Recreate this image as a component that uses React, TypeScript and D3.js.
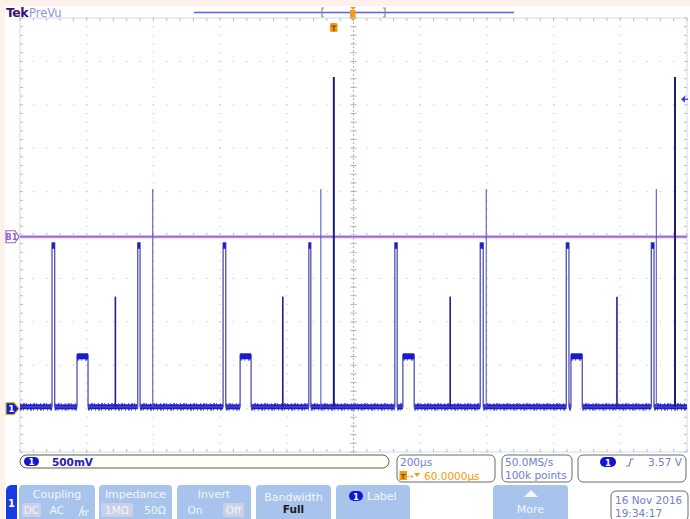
import React from "react";
import * as d3 from "d3";

// ---- data (time in µs relative to screen centre, volts) ----
const timeDomain = [-1000, 1000];
const voltDomain = [-0.5, 4.5];
const baselineLevel = 0.02;
const pulseStarts = [-904, -647, -391, -134, 124, 380, 638, 893];
const pulseEnds = [-896, -640, -383, -128, 131, 389, 646, 901];
const pulseLevel = 1.91;
const midStarts = [-829, -340, 148, 652];
const midEnds = [-796, -307, 182, 686];
const midLevel = 0.62;
const spikeTimes = [-714, -212, 290, 790];
const spikeLevel = 1.29;
const faintSpikeTimes = [-602, -98, 398, 908];
const faintSpikeLevel = 2.53;
const tallSpikeTimes = [-59, 964];
const tallSpikeLevel = 3.82;
const busThreshold = 1.98;
const triggerLevel = 3.57;

const gridTimes = [-800, -600, -400, -200, 200, 400, 600, 800];
const gridVolts = [0, 0.5, 1, 1.5, 2.5, 3, 3.5, 4];

const W = 690, H = 519;
const PL = 20, PR = 687, PT = 18, PB = 452;
const FONT = "'DejaVu Sans', sans-serif";

export default function App() {
  const x = d3.scaleLinear().domain(timeDomain).range([PL, PR]);
  const y = d3.scaleLinear().domain(voltDomain).range([PB, PT]);

  type Ev = { s: number; e: number; v: number; kind: string };
  const evs: Ev[] = [];
  pulseStarts.forEach((s, i) => evs.push({ s, e: pulseEnds[i], v: pulseLevel, kind: "pulse" }));
  midStarts.forEach((s, i) => evs.push({ s, e: midEnds[i], v: midLevel, kind: "mid" }));
  evs.sort((a, b) => a.s - b.s);

  const pts: [number, number][] = [[timeDomain[0], baselineLevel]];
  evs.forEach((ev) => {
    pts.push([ev.s, baselineLevel], [ev.s, ev.v], [ev.e, ev.v], [ev.e, baselineLevel]);
  });
  pts.push([timeDomain[1], baselineLevel]);
  const line = d3.line<[number, number]>().x((d) => x(d[0])).y((d) => y(d[1]));

  const segs: [number, number][] = [];
  let cur = timeDomain[0];
  evs.forEach((ev) => {
    segs.push([cur, ev.s]);
    cur = ev.e;
  });
  segs.push([cur, timeDomain[1]]);

  const minorT = d3.range(timeDomain[0], timeDomain[1] + 1, 40);
  const minorV = d3.range(voltDomain[0], voltDomain[1] + 0.001, 0.1);

  const dots: JSX.Element[] = [];
  gridTimes.forEach((t, i) =>
    minorV.forEach((v, j) =>
      dots.push(<rect key={`vd${i}-${j}`} x={x(t) - 0.5} y={y(v) - 0.5} width={1.1} height={1.1} fill="#bcbcbc" />)
    )
  );
  gridVolts.forEach((v, i) =>
    minorT.forEach((t, j) =>
      dots.push(<rect key={`hd${i}-${j}`} x={x(t) - 0.5} y={y(v) - 0.5} width={1.1} height={1.1} fill="#bcbcbc" />)
    )
  );

  const btnFill = "#a9c4ec";
  const txtLight = "#f2f6ff";
  const readoutBlue = "#6f80cc";

  const button = (bx: number, bw: number, key: string, children: React.ReactNode) => (
    <g key={key}>
      <path d={`M${bx},519 V${489} Q${bx},485 ${bx + 4},485 H${bx + bw - 4} Q${bx + bw},485 ${bx + bw},489 V519 Z`} fill={btnFill} />
      {children}
    </g>
  );

  const by = y(baselineLevel);

  return (
    <div style={{ position: "absolute", left: 0, top: 0, width: W, height: H }}>
      <svg width={W} height={H} style={{ display: "block", fontFamily: FONT }}>
        <rect width={W} height={H} fill="#ffffff" />
        <rect width={W} height={6} fill="#fdf1ec" />
        <rect width={5} height={H} fill="#fdf1ec" />

        {/* title */}
        <text x={6} y={17} fontSize={12.5} fontWeight="bold" fill="#3b0f72" fontFamily={FONT} letterSpacing={-0.5}>Tek</text>
        <text x={29} y={17} fontSize={11.5} fill="#8898d8" fontFamily={FONT}>PreVu</text>

        {/* record view */}
        <line x1={194} x2={514} y1={12.5} y2={12.5} stroke="#5d5df2" strokeWidth={1.5} />
        <path d="M324,8 H322 V17 H324" fill="none" stroke="#8a8a8a" strokeWidth={1.2} />
        <path d="M383,8 H385 V17 H383" fill="none" stroke="#8a8a8a" strokeWidth={1.2} />
        <path d="M350,7 L356,7 L353,10 Z" fill="#f49a10" />
        <rect x={350} y={10} width={5.5} height={7} fill="#f49a10" />
        <path d="M349,17 L357,17 L353,21 Z" fill="#f49a10" />
        <rect x={330} y={23} width={7.5} height={9} rx={1.5} fill="#f49a10" />
        <text x={333.8} y={30.5} fontSize={7.5} fontWeight="bold" textAnchor="middle" fill="#8a4a00" fontFamily={FONT}>T</text>

        {/* graticule */}
        <rect x={PL} y={PT} width={PR - PL} height={PB - PT} fill="none" stroke="#cfdcec" strokeWidth={1} />
        {dots}
        <line x1={x(0)} x2={x(0)} y1={PT} y2={PB} stroke="#b8b0a0" strokeWidth={1} strokeDasharray="2 2" />
        {minorV.map((v, i) => (
          <line key={`ct${i}`} x1={x(0) - 3} x2={x(0) + 3} y1={y(v)} y2={y(v)} stroke="#b8b0a0" strokeWidth={1} />
        ))}
        {minorT.map((t, i) => (
          <g key={`ht${i}`}>
            <line x1={x(t)} x2={x(t)} y1={y(2) - 2} y2={y(2) + 2} stroke="#bcbcbc" strokeWidth={1} />
            <line x1={x(t)} x2={x(t)} y1={PT} y2={PT + 3} stroke="#bcbcbc" strokeWidth={1} />
            <line x1={x(t)} x2={x(t)} y1={PB - 3} y2={PB} stroke="#bcbcbc" strokeWidth={1} />
          </g>
        ))}
        {minorV.map((v, i) => (
          <g key={`vt${i}`}>
            <line x1={PL} x2={PL + 3} y1={y(v)} y2={y(v)} stroke="#bcbcbc" strokeWidth={1} />
            <line x1={PR - 3} x2={PR} y1={y(v)} y2={y(v)} stroke="#bcbcbc" strokeWidth={1} />
          </g>
        ))}

        {/* bus threshold line */}
        <line x1={PL} x2={PR} y1={y(busThreshold)} y2={y(busThreshold)} stroke="#d6c0f2" strokeWidth={3.5} />
        <line x1={PL} x2={PR} y1={y(busThreshold)} y2={y(busThreshold)} stroke="#9a62d4" strokeWidth={1.3} />

        {/* waveform */}
        {segs.map(([a, b], i) => (
          <g key={`bs${i}`}>
            <line x1={x(a)} x2={x(b)} y1={by} y2={by} stroke="#1a1ad0" strokeWidth={5} />
            <line x1={x(a)} x2={x(b)} y1={by - 3} y2={by - 3} stroke="#2a2ad8" strokeWidth={1.2} strokeDasharray="1 2 2 1 1 3" />
            <line x1={x(a)} x2={x(b)} y1={by + 3} y2={by + 3} stroke="#2a2ad8" strokeWidth={1.2} strokeDasharray="2 1 1 3 1 2" />
          </g>
        ))}
        <path d={line(pts) || ""} fill="none" stroke="#5050b4" strokeWidth={1.3} />
        {evs.filter((e) => e.kind === "mid").map((ev, i) => (
          <g key={`mt${i}`}>
            <line x1={x(ev.s)} x2={x(ev.e)} y1={y(ev.v) + 1.5} y2={y(ev.v) + 1.5} stroke="#1a1ad0" strokeWidth={6} />
            <line x1={x(ev.s)} x2={x(ev.e)} y1={y(ev.v) + 5} y2={y(ev.v) + 5} stroke="#2a2ad8" strokeWidth={1.2} strokeDasharray="2 2 1 3" />
          </g>
        ))}
        {evs.filter((e) => e.kind === "pulse").map((ev, i) => (
          <line key={`pt${i}`} x1={x(ev.s)} x2={x(ev.e)} y1={y(ev.v) + 3} y2={y(ev.v) + 3} stroke="#1a1ad0" strokeWidth={6} />
        ))}
        {spikeTimes.map((t, i) => (
          <line key={`sp${i}`} x1={x(t)} x2={x(t)} y1={by} y2={y(spikeLevel)} stroke="#1e1e88" strokeWidth={1.6} />
        ))}
        {faintSpikeTimes.map((t, i) => (
          <line key={`fs${i}`} x1={x(t)} x2={x(t)} y1={by} y2={y(faintSpikeLevel)} stroke="#5a5ac4" strokeWidth={1.1} />
        ))}
        {tallSpikeTimes.map((t, i) => (
          <line key={`ts${i}`} x1={x(t)} x2={x(t)} y1={by} y2={y(tallSpikeLevel)} stroke="#1c1c70" strokeWidth={2} />
        ))}

        {/* left markers */}
        <path d={`M6,${y(busThreshold) - 6} H15 L19,${y(busThreshold)} L15,${y(busThreshold) + 6} H6 Z`} fill="#ffffff" stroke="#9a62d4" strokeWidth={1.2} />
        <text x={11.5} y={y(busThreshold) + 3.5} fontSize={8.5} fontWeight="bold" textAnchor="middle" fill="#9a62d4" fontFamily={FONT}>B1</text>
        <path d={`M6,${y(0) - 6} H14 L19,${y(0)} L14,${y(0) + 6} H6 Z`} fill="#1a1ad0" stroke="#c8c028" strokeWidth={1.2} />
        <text x={11.5} y={y(0) + 3.5} fontSize={9} fontWeight="bold" textAnchor="middle" fill="#ffffff" fontFamily={FONT}>1</text>

        {/* trigger level arrow */}
        <path d={`M681,${y(triggerLevel) + 0.5} L685,${y(triggerLevel) - 3} L685,${y(triggerLevel) + 4} Z`} fill="#3a3ae0" />
        <line x1={684} x2={688} y1={y(triggerLevel) + 0.5} y2={y(triggerLevel) + 0.5} stroke="#3a3ae0" strokeWidth={1.3} />

        {/* readouts */}
        <rect x={20} y={455} width={369} height={13} rx={6.5} fill="#fffff4" stroke="#5a5a5a" strokeWidth={1} />
        <rect x={24} y={457} width={15} height={9} rx={4.5} fill="#1414d4" />
        <text x={31.5} y={465} fontSize={8.5} fontWeight="bold" textAnchor="middle" fill="#ffffff" fontFamily={FONT}>1</text>
        <text x={52} y={466} fontSize={10.5} fontWeight="bold" fill="#2020b8" fontFamily={FONT}>500mV</text>

        <rect x={397} y={455} width={98} height={27} rx={5} fill="#ffffff" stroke="#6a6a6a" strokeWidth={1} />
        <text x={400} y={466} fontSize={10.5} fill={readoutBlue} fontFamily={FONT}>200µs</text>
        <rect x={399.5} y={471} width={7.5} height={9} fill="#f49a10" />
        <text x={403.2} y={478.5} fontSize={7} fontWeight="bold" textAnchor="middle" fill="#8a4a00" fontFamily={FONT}>T</text>
        <text x={407} y={479} fontSize={8} fill="#f49a10" fontFamily={FONT}>→</text>
        <path d="M414,473 L420,473 L417,477 Z" fill="#f49a10" />
        <text x={424} y={480} fontSize={10.5} fill="#f49a10" fontFamily={FONT}>60.0000µs</text>

        <rect x={502} y={455} width={70} height={27} rx={5} fill="#ffffff" stroke="#6a6a6a" strokeWidth={1} />
        <text x={505} y={466} fontSize={10.5} fill={readoutBlue} fontFamily={FONT}>50.0MS/s</text>
        <text x={505} y={479} fontSize={10.5} fill={readoutBlue} fontFamily={FONT}>100k points</text>

        <rect x={578} y={455} width={108} height={27} rx={5} fill="#ffffff" stroke="#6a6a6a" strokeWidth={1} />
        <rect x={600} y={457} width={16} height={10} rx={5} fill="#1414d4" />
        <text x={608} y={465.5} fontSize={8.5} fontWeight="bold" textAnchor="middle" fill="#ffffff" fontFamily={FONT}>1</text>
        <path d="M626,466 L629,466 L631,459 L634,459" fill="none" stroke={readoutBlue} strokeWidth={1.2} />
        <text x={648} y={466} fontSize={10.5} fill={readoutBlue} fontFamily={FONT}>3.57 V</text>

        {/* buttons */}
        <path d="M6,519 V491 Q6,485 12,485 H17 V519 Z" fill="#1a3ae2" />
        <text x={11.5} y={507} fontSize={10} fontWeight="bold" textAnchor="middle" fill="#ffffff" fontFamily={FONT}>1</text>

        {button(19, 76, "coupling", (
          <>
            <text x={57} y={498} fontSize={11} textAnchor="middle" fill={txtLight} fontFamily={FONT}>Coupling</text>
            <rect x={22} y={503} width={19} height={14} rx={2} fill="#c9d0e8" />
            <text x={31.5} y={514} fontSize={10.5} textAnchor="middle" fill={txtLight} fontFamily={FONT}>DC</text>
            <text x={57} y={514} fontSize={10.5} textAnchor="middle" fill={txtLight} fontFamily={FONT}>AC</text>
            <path d="M79,516 L83,506 M81,511 H89 M83,511 V516 M86,511 V516" fill="none" stroke={txtLight} strokeWidth={1.2} />
          </>
        ))}
        {button(99, 73, "impedance", (
          <>
            <text x={135.5} y={498} fontSize={11} textAnchor="middle" fill={txtLight} fontFamily={FONT}>Impedance</text>
            <rect x={101} y={503} width={32} height={14} rx={2} fill="#c9d0e8" />
            <text x={117} y={514} fontSize={10.5} textAnchor="middle" fill={txtLight} fontFamily={FONT}>1MΩ</text>
            <text x={155} y={514} fontSize={10.5} textAnchor="middle" fill={txtLight} fontFamily={FONT}>50Ω</text>
          </>
        ))}
        {button(177, 74, "invert", (
          <>
            <text x={214} y={498} fontSize={11} textAnchor="middle" fill={txtLight} fontFamily={FONT}>Invert</text>
            <text x={195} y={514} fontSize={10.5} textAnchor="middle" fill={txtLight} fontFamily={FONT}>On</text>
            <rect x={223} y={503} width={21} height={14} rx={2} fill="#c9d0e8" />
            <text x={233.5} y={514} fontSize={10.5} textAnchor="middle" fill={txtLight} fontFamily={FONT}>Off</text>
          </>
        ))}
        {button(256, 75, "bandwidth", (
          <>
            <text x={293.5} y={501} fontSize={11} textAnchor="middle" fill={txtLight} fontFamily={FONT}>Bandwidth</text>
            <text x={293.5} y={513} fontSize={10.5} fontWeight="bold" textAnchor="middle" fill="#1a1a1a" fontFamily={FONT}>Full</text>
          </>
        ))}
        {button(336, 74, "label", (
          <>
            <rect x={349} y={491} width={14} height={10} rx={5} fill="#1414d4" />
            <text x={356} y={499.5} fontSize={8.5} fontWeight="bold" textAnchor="middle" fill="#ffffff" fontFamily={FONT}>1</text>
            <text x={367} y={500} fontSize={11} fill={txtLight} fontFamily={FONT}>Label</text>
          </>
        ))}
        {button(493, 75, "more", (
          <>
            <path d="M524,497 L538,497 L531,490 Z" fill={txtLight} />
            <text x={530.5} y={513} fontSize={11} textAnchor="middle" fill={txtLight} fontFamily={FONT}>More</text>
          </>
        ))}

        <rect x={611} y={491} width={77} height={30} rx={5} fill="#ffffff" stroke="#6a6a6a" strokeWidth={1} />
        <text x={615} y={504} fontSize={10.5} fill={readoutBlue} fontFamily={FONT}>16 Nov 2016</text>
        <text x={615} y={517} fontSize={10.5} fill={readoutBlue} fontFamily={FONT}>19:34:17</text>
      </svg>
    </div>
  );
}
